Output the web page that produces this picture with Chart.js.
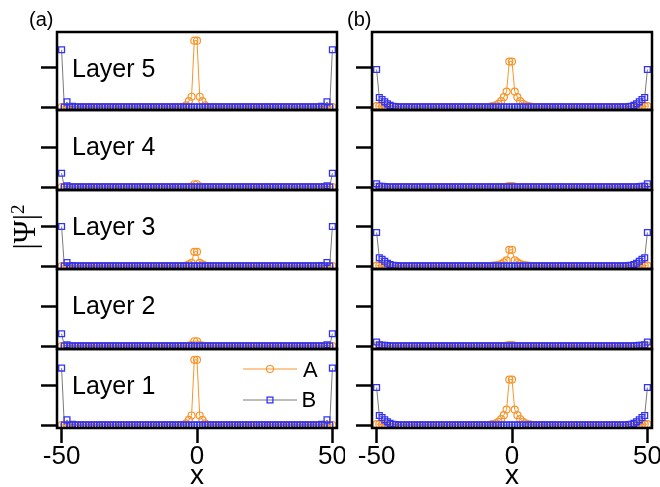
<!DOCTYPE html>
<html>
<head>
<meta charset="utf-8">
<script src="https://cdn.jsdelivr.net/npm/chart.js@4.4.1/dist/chart.umd.min.js"></script>
<style>
  html, body { margin: 0; padding: 0; background: #fff; width: 660px; height: 487px; overflow: hidden; }
  .panel { position: absolute; }
  .txt { position: absolute; font-family: 'Liberation Sans', Arial, sans-serif; color: #000; white-space: nowrap; }
  .ylab { position: absolute; font-family: 'Liberation Serif', 'Times New Roman', serif; font-size: 31px; line-height: 1;
          color: #000; white-space: nowrap; transform: translate(-50%, -50%) rotate(-90deg); }
  .ylab sup { font-size: 19px; vertical-align: 0.55em; line-height: 0; }
</style>
</head>
<body>
<div id="root"></div>
<script>
// Lattice sites x = -50 ... 50
const xValues = Array.from({ length: 101 }, (_, i) => i - 50);
const xTicks = [-50, 0, 50];
const yTicks = [0, 0.1];
const layerNames = ['Layer 5', 'Layer 4', 'Layer 3', 'Layer 2', 'Layer 1'];
const seriesNames = ['A', 'B'];

// ---- column (a): |psi|^2 on sublattice A and B, per layer ----
const a5A = [
  0,0,0,0,0,0,0,0,0,0,
  0,0,0,0,0,0,0,0,0,0, 0,0,0,0,0,0,0,0,0,0, 0,0,0,0,0,0,0,0,0,0,
  0,0,0,0,0,0, 0.004,0.015,0.026,0.168,0.168,0.026,0.015,0.004, 0,0,0,0,0,0,0,
  0,0,0,0,0,0,0,0,0,0, 0,0,0,0,0,0,0,0,0,0, 0,0,0,0,0,0,0,0,0,0,
  0,0,0,0,0,0,0,0,0,0
];
const a5B = [
  0.145,0,0.013,0,0.0015,0,0,0,0,0,
  0,0,0,0,0,0,0,0,0,0, 0,0,0,0,0,0,0,0,0,0, 0,0,0,0,0,0,0,0,0,0,
  0,0,0,0,0,0,0,0,0,0,0,0,0,0,0,0,0,0,0,0,0,
  0,0,0,0,0,0,0,0,0,0, 0,0,0,0,0,0,0,0,0,0, 0,0,0,0,0,0,0,0,0,0,
  0,0,0,0,0,0.0015,0,0.013,0,0.145
];
const a4A = [
  0,0,0,0,0,0,0,0,0,0,
  0,0,0,0,0,0,0,0,0,0, 0,0,0,0,0,0,0,0,0,0, 0,0,0,0,0,0,0,0,0,0,
  0,0,0,0,0,0,0,0, 0.001,0.007,0.007,0.001, 0,0,0,0,0,0,0,0,0,
  0,0,0,0,0,0,0,0,0,0, 0,0,0,0,0,0,0,0,0,0, 0,0,0,0,0,0,0,0,0,0,
  0,0,0,0,0,0,0,0,0,0
];
const a4B = [
  0.035,0,0.003,0,0,0,0,0,0,0,
  0,0,0,0,0,0,0,0,0,0, 0,0,0,0,0,0,0,0,0,0, 0,0,0,0,0,0,0,0,0,0,
  0,0,0,0,0,0,0,0,0,0,0,0,0,0,0,0,0,0,0,0,0,
  0,0,0,0,0,0,0,0,0,0, 0,0,0,0,0,0,0,0,0,0, 0,0,0,0,0,0,0,0,0,0,
  0,0,0,0,0,0,0,0.003,0,0.035
];
const a3A = [
  0,0,0,0,0,0,0,0,0,0,
  0,0,0,0,0,0,0,0,0,0, 0,0,0,0,0,0,0,0,0,0, 0,0,0,0,0,0,0,0,0,0,
  0,0,0,0,0,0, 0.001,0.004,0.008,0.036,0.036,0.008,0.004,0.001, 0,0,0,0,0,0,0,
  0,0,0,0,0,0,0,0,0,0, 0,0,0,0,0,0,0,0,0,0, 0,0,0,0,0,0,0,0,0,0,
  0,0,0,0,0,0,0,0,0,0
];
const a3B = [
  0.100,0,0.009,0,0.001,0,0,0,0,0,
  0,0,0,0,0,0,0,0,0,0, 0,0,0,0,0,0,0,0,0,0, 0,0,0,0,0,0,0,0,0,0,
  0,0,0,0,0,0,0,0,0,0,0,0,0,0,0,0,0,0,0,0,0,
  0,0,0,0,0,0,0,0,0,0, 0,0,0,0,0,0,0,0,0,0, 0,0,0,0,0,0,0,0,0,0,
  0,0,0,0,0,0.001,0,0.009,0,0.100
];
const a2A = [
  0,0,0,0,0,0,0,0,0,0,
  0,0,0,0,0,0,0,0,0,0, 0,0,0,0,0,0,0,0,0,0, 0,0,0,0,0,0,0,0,0,0,
  0,0,0,0,0,0,0, 0.001,0.002,0.012,0.012,0.002,0.001, 0,0,0,0,0,0,0,0,
  0,0,0,0,0,0,0,0,0,0, 0,0,0,0,0,0,0,0,0,0, 0,0,0,0,0,0,0,0,0,0,
  0,0,0,0,0,0,0,0,0,0
];
const a2B = [
  0.031,0,0.003,0,0,0,0,0,0,0,
  0,0,0,0,0,0,0,0,0,0, 0,0,0,0,0,0,0,0,0,0, 0,0,0,0,0,0,0,0,0,0,
  0,0,0,0,0,0,0,0,0,0,0,0,0,0,0,0,0,0,0,0,0,
  0,0,0,0,0,0,0,0,0,0, 0,0,0,0,0,0,0,0,0,0, 0,0,0,0,0,0,0,0,0,0,
  0,0,0,0,0,0,0,0.003,0,0.031
];
const a1A = [
  0,0,0,0,0,0,0,0,0,0,
  0,0,0,0,0,0,0,0,0,0, 0,0,0,0,0,0,0,0,0,0, 0,0,0,0,0,0,0,0,0,0,
  0,0,0,0,0,0, 0.004,0.013,0.024,0.165,0.165,0.024,0.013,0.004, 0,0,0,0,0,0,0,
  0,0,0,0,0,0,0,0,0,0, 0,0,0,0,0,0,0,0,0,0, 0,0,0,0,0,0,0,0,0,0,
  0,0,0,0,0,0,0,0,0,0
];
const a1B = [
  0.144,0,0.013,0,0.0015,0,0,0,0,0,
  0,0,0,0,0,0,0,0,0,0, 0,0,0,0,0,0,0,0,0,0, 0,0,0,0,0,0,0,0,0,0,
  0,0,0,0,0,0,0,0,0,0,0,0,0,0,0,0,0,0,0,0,0,
  0,0,0,0,0,0,0,0,0,0, 0,0,0,0,0,0,0,0,0,0, 0,0,0,0,0,0,0,0,0,0,
  0,0,0,0,0,0.0015,0,0.013,0,0.144
];

// ---- column (b) ----
const b5A = [
  0.002,0.002,0.001,0,0,0,0,0,0,0,
  0,0,0,0,0,0,0,0,0,0, 0,0,0,0,0,0,0,0,0,0, 0,0,0,0,0,0,0,0,0,0,
  0,0, 0.001,0.002,0.004,0.008,0.015,0.025,0.039,0.115,0.115,0.039,0.025,0.015,0.008,0.004,0.002,0.001, 0,0,0,
  0,0,0,0,0,0,0,0,0,0, 0,0,0,0,0,0,0,0,0,0, 0,0,0,0,0,0,0,0,0,0,
  0,0,0,0,0,0,0,0.001,0.002,0.002
];
const b5B = [
  0.095,0.024,0.019,0.013,0.008,0.004,0.002,0.001,0,0,
  0,0,0,0,0,0,0,0,0,0, 0,0,0,0,0,0,0,0,0,0, 0,0,0,0,0,0,0,0,0,0,
  0,0,0,0,0,0,0,0,0,0,0,0,0,0,0,0,0,0,0,0,0,
  0,0,0,0,0,0,0,0,0,0, 0,0,0,0,0,0,0,0,0,0, 0,0,0,0,0,0,0,0,0,0,
  0,0,0.001,0.002,0.004,0.008,0.013,0.019,0.024,0.095
];
const b4A = [
  0,0,0,0,0,0,0,0,0,0,
  0,0,0,0,0,0,0,0,0,0, 0,0,0,0,0,0,0,0,0,0, 0,0,0,0,0,0,0,0,0,0,
  0,0,0,0,0,0,0,0, 0.001,0.002,0.002,0.001, 0,0,0,0,0,0,0,0,0,
  0,0,0,0,0,0,0,0,0,0, 0,0,0,0,0,0,0,0,0,0, 0,0,0,0,0,0,0,0,0,0,
  0,0,0,0,0,0,0,0,0,0
];
const b4B = [
  0.008,0.002,0.0015,0.001,0,0,0,0,0,0,
  0,0,0,0,0,0,0,0,0,0, 0,0,0,0,0,0,0,0,0,0, 0,0,0,0,0,0,0,0,0,0,
  0,0,0,0,0,0,0,0,0,0,0,0,0,0,0,0,0,0,0,0,0,
  0,0,0,0,0,0,0,0,0,0, 0,0,0,0,0,0,0,0,0,0, 0,0,0,0,0,0,0,0,0,0,
  0,0,0,0,0,0,0.001,0.0015,0.002,0.008
];
const b3A = [
  0.001,0.001,0,0,0,0,0,0,0,0,
  0,0,0,0,0,0,0,0,0,0, 0,0,0,0,0,0,0,0,0,0, 0,0,0,0,0,0,0,0,0,0,
  0,0,0, 0.001,0.0015,0.003,0.005,0.009,0.014,0.041,0.041,0.014,0.009,0.005,0.003,0.0015,0.001, 0,0,0,0,
  0,0,0,0,0,0,0,0,0,0, 0,0,0,0,0,0,0,0,0,0, 0,0,0,0,0,0,0,0,0,0,
  0,0,0,0,0,0,0,0,0.001,0.001
];
const b3B = [
  0.085,0.021,0.017,0.012,0.007,0.0035,0.0018,0.001,0,0,
  0,0,0,0,0,0,0,0,0,0, 0,0,0,0,0,0,0,0,0,0, 0,0,0,0,0,0,0,0,0,0,
  0,0,0,0,0,0,0,0,0,0,0,0,0,0,0,0,0,0,0,0,0,
  0,0,0,0,0,0,0,0,0,0, 0,0,0,0,0,0,0,0,0,0, 0,0,0,0,0,0,0,0,0,0,
  0,0,0.001,0.0018,0.0035,0.007,0.012,0.017,0.021,0.085
];
const b2A = [
  0,0,0,0,0,0,0,0,0,0,
  0,0,0,0,0,0,0,0,0,0, 0,0,0,0,0,0,0,0,0,0, 0,0,0,0,0,0,0,0,0,0,
  0,0,0,0,0,0,0,0, 0.001,0.002,0.002,0.001, 0,0,0,0,0,0,0,0,0,
  0,0,0,0,0,0,0,0,0,0, 0,0,0,0,0,0,0,0,0,0, 0,0,0,0,0,0,0,0,0,0,
  0,0,0,0,0,0,0,0,0,0
];
const b2B = [
  0.010,0.003,0.002,0.0015,0.001,0,0,0,0,0,
  0,0,0,0,0,0,0,0,0,0, 0,0,0,0,0,0,0,0,0,0, 0,0,0,0,0,0,0,0,0,0,
  0,0,0,0,0,0,0,0,0,0,0,0,0,0,0,0,0,0,0,0,0,
  0,0,0,0,0,0,0,0,0,0, 0,0,0,0,0,0,0,0,0,0, 0,0,0,0,0,0,0,0,0,0,
  0,0,0,0,0,0.001,0.0015,0.002,0.003,0.010
];
const b1A = [
  0.002,0.002,0.001,0,0,0,0,0,0,0,
  0,0,0,0,0,0,0,0,0,0, 0,0,0,0,0,0,0,0,0,0, 0,0,0,0,0,0,0,0,0,0,
  0,0, 0.001,0.002,0.004,0.008,0.015,0.025,0.039,0.115,0.115,0.039,0.025,0.015,0.008,0.004,0.002,0.001, 0,0,0,
  0,0,0,0,0,0,0,0,0,0, 0,0,0,0,0,0,0,0,0,0, 0,0,0,0,0,0,0,0,0,0,
  0,0,0,0,0,0,0,0.001,0.002,0.002
];
const b1B = [
  0.095,0.024,0.019,0.013,0.008,0.004,0.002,0.001,0,0,
  0,0,0,0,0,0,0,0,0,0, 0,0,0,0,0,0,0,0,0,0, 0,0,0,0,0,0,0,0,0,0,
  0,0,0,0,0,0,0,0,0,0,0,0,0,0,0,0,0,0,0,0,0,
  0,0,0,0,0,0,0,0,0,0, 0,0,0,0,0,0,0,0,0,0, 0,0,0,0,0,0,0,0,0,0,
  0,0,0.001,0.002,0.004,0.008,0.013,0.019,0.024,0.095
];

const columnA = [[a5A, a5B], [a4A, a4B], [a3A, a3B], [a2A, a2B], [a1A, a1B]];
const columnB = [[b5A, b5B], [b4A, b4B], [b3A, b3B], [b2A, b2B], [b1A, b1B]];

// ---- styling / layout ----
const ORANGE = '#f7952b';
const BLUE = '#3333f5';
const GRAY = '#7a7a7a';
const SANS = "'Liberation Sans', Arial, sans-serif";
Chart.defaults.font.family = SANS;
Chart.defaults.color = '#000';

const ROW_TOPS = [32, 110, 190, 269, 349];
const PLOT_BOTTOM = 428;
const PX_PER_UNIT = 395;     // vertical scale of every panel
const BASE_OFFSET = 3;       // zero line sits slightly above the frame
const X_RANGE = 51.7;

const COLUMNS = [
  { left: 0,   width: 345, padLeft: 41, padRight: 8, rows: columnA },
  { left: 345, width: 315, padLeft: 11, padRight: 8, rows: columnB }
];

const framePlugin = {
  id: 'panelFrame',
  afterDraw(chart) {
    const { ctx, chartArea: a } = chart;
    ctx.save();
    ctx.lineWidth = 2.5;
    ctx.strokeStyle = '#000';
    ctx.strokeRect(a.left, a.top, a.right - a.left, a.bottom - a.top);
    ctx.restore();
  }
};

const root = document.getElementById('root');
const toPoints = vals => xValues.map((x, i) => ({ x, y: vals[i] }));

COLUMNS.forEach((col, c) => {
  col.rows.forEach(([aVals, bVals], r) => {
    const top = ROW_TOPS[r];
    const bottom = r < 4 ? ROW_TOPS[r + 1] : PLOT_BOTTOM;
    const h = bottom - top;
    const isBottom = r === 4;
    const cTop = top - 6;
    const cHeight = isBottom ? 490 - cTop : h + 12;

    const div = document.createElement('div');
    div.className = 'panel';
    div.style.left = col.left + 'px';
    div.style.top = cTop + 'px';
    const canvas = document.createElement('canvas');
    canvas.width = col.width; canvas.height = cHeight;
    canvas.style.width = col.width + 'px'; canvas.style.height = cHeight + 'px';
    div.appendChild(canvas);
    root.appendChild(div);

    const yMin = -BASE_OFFSET / PX_PER_UNIT;
    const yMax = yMin + h / PX_PER_UNIT;

    new Chart(canvas, {
      type: 'line',
      data: {
        datasets: [
          {
            label: seriesNames[1], data: toPoints(bVals), order: 0,
            borderColor: GRAY, borderWidth: 1, tension: 0,
            pointStyle: 'rect', pointRadius: 4.1, pointBorderWidth: 1.3,
            pointBorderColor: BLUE, pointBackgroundColor: 'rgba(0,0,0,0)'
          },
          {
            label: seriesNames[0], data: toPoints(aVals), order: 1,
            borderColor: ORANGE, borderWidth: 1, tension: 0,
            pointStyle: 'circle', pointRadius: 3.5, pointBorderWidth: 1.2,
            pointBorderColor: ORANGE, pointBackgroundColor: 'rgba(0,0,0,0)'
          }
        ]
      },
      options: {
        responsive: false, animation: false, events: [],
        devicePixelRatio: 1,
        layout: { padding: { left: col.padLeft, right: col.padRight, top: 6, bottom: isBottom ? 0 : 6 } },
        plugins: { legend: { display: false }, tooltip: { enabled: false } },
        scales: {
          x: {
            type: 'linear', min: -X_RANGE, max: X_RANGE, display: isBottom,
            afterBuildTicks: s => { s.ticks = xTicks.map(v => ({ value: v })); },
            afterFit: s => {
              if (!isBottom) return;
              s.height = 490 - PLOT_BOTTOM; s.paddingLeft = 0; s.paddingRight = 0;
            },
            border: { display: false },
            grid: { drawOnChartArea: false, drawTicks: true, tickLength: 15, tickWidth: 2.5, tickColor: '#000' },
            ticks: { padding: 0, color: '#000', font: { size: 26, lineHeight: 1.1 }, maxRotation: 0 },
            title: { display: true, text: 'x', color: '#000', padding: 0, font: { size: 28, lineHeight: 1 } }
          },
          y: {
            type: 'linear', position: 'left', min: yMin, max: yMax,
            afterBuildTicks: s => { s.ticks = yTicks.map(v => ({ value: v })); },
            afterFit: s => { s.width = 16; s.paddingTop = 0; s.paddingBottom = 0; },
            border: { display: false },
            grid: { drawOnChartArea: false, drawTicks: true, tickLength: 16, tickWidth: 2.5, tickColor: '#000' },
            ticks: { display: false }
          }
        }
      },
      plugins: [framePlugin]
    });

    if (c === 0) {
      const t = document.createElement('div');
      t.className = 'txt';
      t.style.cssText += `left:72px;top:${top + 23.8}px;font-size:25px;line-height:25px;`;
      t.textContent = layerNames[r];
      root.appendChild(t);
    }
  });
});
</script>

<div class="txt" style="left:29px;top:9px;font-size:20px;line-height:20px;">(a)</div>
<div class="txt" style="left:347px;top:9px;font-size:20px;line-height:20px;">(b)</div>
<div class="ylab" style="left:24px;top:227px;">|Ψ|<sup>2</sup></div>

<!-- key for the two sublattices -->
<svg style="position:absolute;left:243px;top:364px;" width="54" height="10">
  <line x1="0" y1="5" x2="54" y2="5" stroke="#f7952b" stroke-width="1"/>
  <circle cx="27" cy="5" r="3.5" fill="none" stroke="#f7952b" stroke-width="1.2"/>
</svg>
<div class="txt" style="left:303px;top:359.4px;font-size:22px;line-height:22px;">A</div>
<svg style="position:absolute;left:243px;top:395px;" width="54" height="10">
  <line x1="0" y1="5" x2="54" y2="5" stroke="#7a7a7a" stroke-width="1"/>
  <rect x="24.1" y="2.1" width="5.8" height="5.8" fill="none" stroke="#3333f5" stroke-width="1.3"/>
</svg>
<div class="txt" style="left:301.5px;top:389.4px;font-size:22px;line-height:22px;">B</div>
</body>
</html>
